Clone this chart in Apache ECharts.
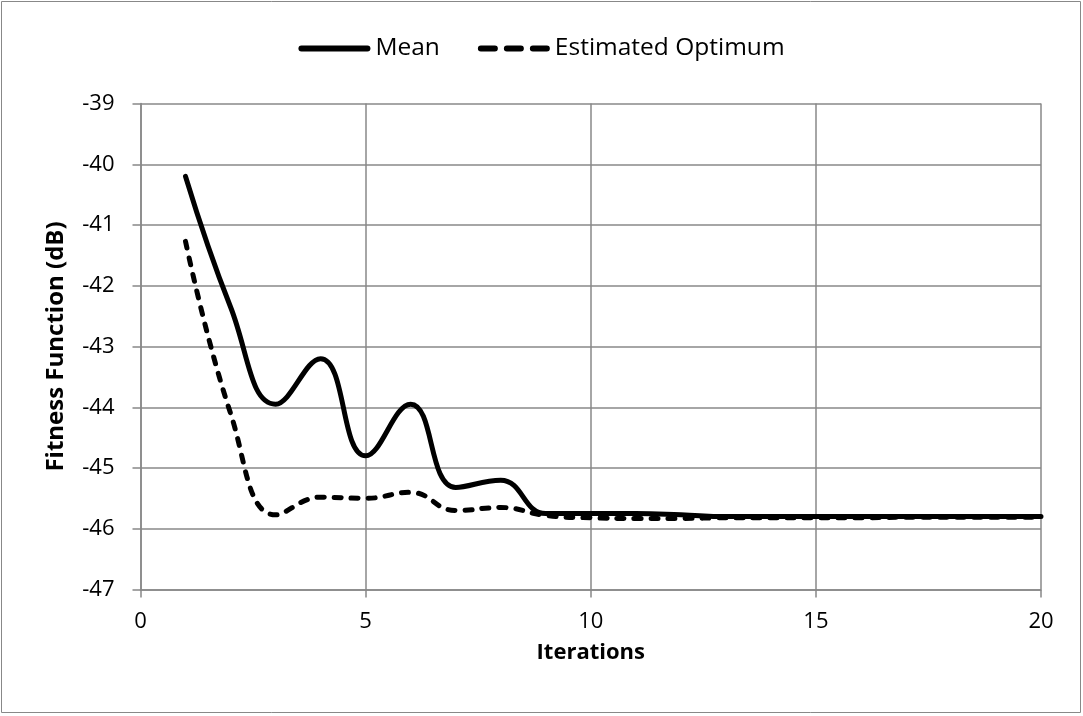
<!DOCTYPE html>
<html>
<head>
<meta charset="utf-8">
<script src="https://cdn.jsdelivr.net/npm/echarts@6/dist/echarts.min.js"></script>
<style>html,body{margin:0;padding:0;background:#fff}#c{width:1083px;height:716px}</style>
</head>
<body>
<div id="c"></div>
<script>
const iterations = [1,2,3,4,5,6,7,8,9,10,11,12,13,14,15,16,17,18,19,20];
const meanValues = [-40.2,-42.35,-43.95,-43.2,-44.8,-43.95,-45.32,-45.2,-45.75,-45.75,-45.75,-45.77,-45.8,-45.8,-45.8,-45.8,-45.8,-45.8,-45.8,-45.8];
const optimumValues = [-41.27,-44.1,-45.77,-45.48,-45.5,-45.4,-45.7,-45.65,-45.78,-45.82,-45.83,-45.83,-45.82,-45.82,-45.82,-45.82,-45.81,-45.81,-45.81,-45.81];
const seriesNames = ['Mean','Estimated Optimum'];

const font = 'Open Sans';
const solidIcon = 'path://M3,0H69A3,3 0 0 1 69,6H3A3,3 0 0 1 3,0Z';
const dashIcon = 'path://M3,0H17A3,3 0 0 1 17,6H3A3,3 0 0 1 3,0ZM29,0H43A3,3 0 0 1 43,6H29A3,3 0 0 1 29,0ZM55,0H69A3,3 0 0 1 69,6H55A3,3 0 0 1 55,0Z';
const chart = echarts.init(document.getElementById('c'));
chart.setOption({
  animation: false,
  graphic: [{type:'rect', shape:{x:1.5,y:1.5,width:1079,height:711}, style:{fill:'none', stroke:'#888', lineWidth:1}}],
  legend: {
    top: 31, left: 'center', itemWidth: 72, itemHeight: 6, itemGap: 38,
    textStyle: {fontFamily: font, fontSize: 24.5, color: '#000'},
    data: [{name: seriesNames[0], icon: solidIcon}, {name: seriesNames[1], icon: dashIcon}]
  },
  grid: {left: 140.5, right: 42, top: 103.5, bottom: 126.5},
  xAxis: {
    type: 'value', min: 0, max: 20, interval: 5,
    name: 'Iterations', nameLocation: 'middle', nameGap: 52,
    nameTextStyle: {fontFamily: font, fontSize: 22, fontWeight: 'bold', color: '#000'},
    axisLine: {show: true, lineStyle: {color: '#888', width: 1.5}},
    axisTick: {show: true, length: 8, lineStyle: {color: '#888', width: 1.5}},
    axisLabel: {fontFamily: font, fontSize: 22, color: '#000', margin: 21},
    splitLine: {show: true, lineStyle: {color: '#888', width: 1.5}}
  },
  yAxis: {
    type: 'value', min: -47, max: -39, interval: 1,
    name: 'Fitness Function (dB)', nameLocation: 'middle', nameGap: 72, nameRotate: 90,
    nameTextStyle: {fontFamily: font, fontSize: 24, fontWeight: 'bold', color: '#000'},
    axisLine: {show: true, lineStyle: {color: '#888', width: 1.5}},
    axisTick: {show: true, length: 8, lineStyle: {color: '#888', width: 1.5}},
    axisLabel: {fontFamily: font, fontSize: 22, color: '#000', margin: 26},
    splitLine: {show: true, lineStyle: {color: '#888', width: 1.5}}
  },
  series: [
    {
      name: seriesNames[0], type: 'line', smooth: 0.45, showSymbol: false, symbol: 'none',
      data: iterations.map((x,i) => [x, meanValues[i]]),
      lineStyle: {color: '#000', width: 5, cap: 'round', join: 'round'},
      itemStyle: {color: '#000'}, z: 3
    },
    {
      name: seriesNames[1], type: 'line', smooth: 0.45, showSymbol: false, symbol: 'none',
      data: iterations.map((x,i) => [x, optimumValues[i]]),
      lineStyle: {color: '#000', width: 5, type: [7,10], cap: 'round', join: 'round'},
      itemStyle: {color: '#000'}, z: 2
    }
  ]
});
</script>
</body>
</html>
